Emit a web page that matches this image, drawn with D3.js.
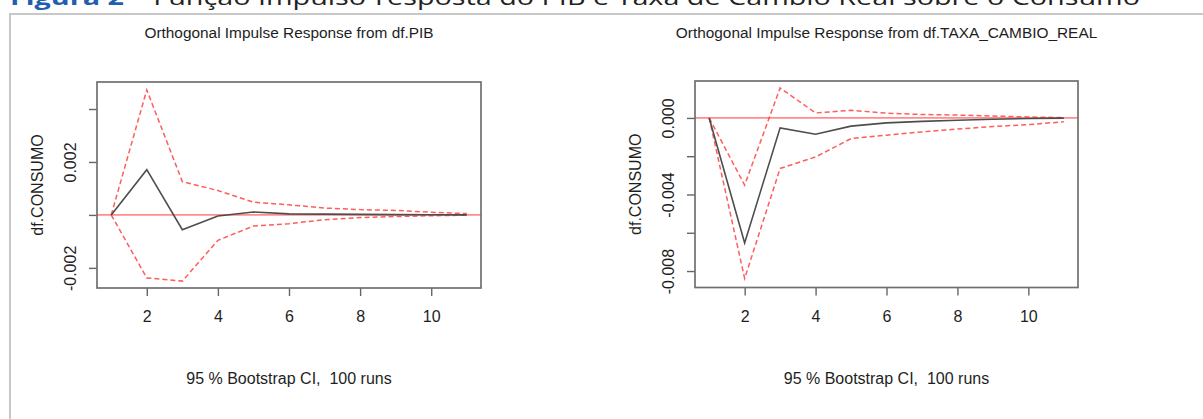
<!DOCTYPE html>
<html><head><meta charset="utf-8">
<script src="https://cdn.jsdelivr.net/npm/d3@7/dist/d3.min.js"></script>
<style>
html,body{margin:0;padding:0;background:#fff;}
svg{display:block;}
text{font-family:"Liberation Sans",Arial,sans-serif;fill:#1e1e1e;}
</style></head>
<body>
<script>
// ---- data ----
const horizons = [1,2,3,4,5,6,7,8,9,10,11];
const pibIrf   = [0, 0.00171, -0.00056, -0.00004, 0.00011, 0.00004, 0.00003, 0.00002, 0.00001, 0.000005, 0.0];
const pibUpper = [0, 0.00472, 0.00126, 0.00092, 0.00048, 0.00038, 0.00026, 0.00020, 0.00017, 0.00010, 0.00005];
const pibLower = [0, -0.00238, -0.00250, -0.00096, -0.00042, -0.00033, -0.00018, -0.00010, -0.00006, -0.00003, -0.00001];
const cambioIrf   = [0, -0.00653, -0.00052, -0.00085, -0.00043, -0.00026, -0.00018, -0.00012, -0.00007, -0.00003, -0.00001];
const cambioUpper = [0, -0.00351, 0.00157, 0.00026, 0.00040, 0.00025, 0.00018, 0.00015, 0.00010, 0.00005, 0.00002];
const cambioLower = [0, -0.00839, -0.00264, -0.00204, -0.00108, -0.00090, -0.00073, -0.00058, -0.00045, -0.00035, -0.00020];
const xTicks = [2,4,6,8,10];
const pibYTicks = [-0.002, 0, 0.002, 0.004];
const pibYLabels = [-0.002, 0.002];
const cambioYTicks = [-0.008, -0.006, -0.004, -0.002, 0];
const cambioYLabels = [-0.008, -0.004, 0];
const titles = ["Orthogonal Impulse Response from df.PIB", "Orthogonal Impulse Response from df.TAXA_CAMBIO_REAL"];
const yLabel = "df.CONSUMO";
const xLabel = "95 % Bootstrap CI,  100 runs";

const W = 1203, H = 419;
const svg = d3.select("body").append("svg").attr("width", W).attr("height", H);

// figure caption (clipped at the top, as in the source) and frame
const cap = svg.append("text").attr("x", 10).attr("y", 5)
  .style("font-family", "'Open Sans','Liberation Sans',sans-serif").style("font-size", "22px");
cap.append("tspan").text("Figura 2").style("fill", "#1f5fae").style("font-weight", "bold");
cap.append("tspan").text(" \u2013 Função Impulso-resposta do PIB e Taxa de Câmbio Real sobre o Consumo").style("fill", "#222");
cap.attr("textLength", 1130).attr("lengthAdjust", "spacingAndGlyphs");
svg.append("path").attr("d", "M10,419V14H1203").attr("fill", "none").attr("stroke", "#c8c8c8").attr("stroke-width", 2);

const FS = "16px";
function panel(cfg) {
  const {x0, x1, y0, y1, yDomain, irf, up, lo, yTicks, yLabels, title} = cfg;
  const x = d3.scaleLinear().domain([0.6, 11.4]).range([x0, x1]);
  const y = d3.scaleLinear().domain(yDomain).range([y1, y0]);
  const g = svg.append("g");

  // axes
  const fmt = d => d3.format(".3f")(d).replace("\u2212", "-");
  const ax = g.append("g").attr("transform", `translate(${x0},0)`)
    .call(d3.axisLeft(y).tickValues(yTicks).tickSize(8).tickPadding(0)
      .tickFormat(d => yLabels.some(v => Math.abs(v - d) < 1e-9) ? fmt(d) : ""));
  ax.select(".domain").remove();
  ax.selectAll(".tick line").attr("stroke", "#666").attr("stroke-width", 1.4);
  ax.selectAll(".tick text").attr("transform", "rotate(-90)").attr("x", 0).attr("y", -27)
    .attr("dy", "0.36em").attr("text-anchor", "middle")
    .style("font-size", FS).style("fill", "#1e1e1e").style("font-family", "'Liberation Sans',Arial,sans-serif");

  const bx = g.append("g").attr("transform", `translate(0,${y1})`)
    .call(d3.axisBottom(x).tickValues(xTicks).tickSize(8).tickPadding(15));
  bx.select(".domain").remove();
  bx.selectAll(".tick line").attr("stroke", "#666").attr("stroke-width", 1.4);
  bx.selectAll(".tick text").style("font-size", FS).style("fill", "#1e1e1e")
    .style("font-family", "'Liberation Sans',Arial,sans-serif");

  // zero line
  g.append("line").attr("x1", x0).attr("x2", x1).attr("y1", y(0)).attr("y2", y(0))
    .attr("stroke", "#ff7a7a").attr("stroke-width", 1.8).attr("opacity", 0.85);

  const line = d3.line().x((d, i) => x(horizons[i])).y(d => y(d));
  [up, lo].forEach(s => g.append("path").datum(s).attr("d", line).attr("fill", "none")
    .attr("stroke", "#ff4040").attr("stroke-width", 1.5).attr("stroke-dasharray", "5,3").attr("opacity", 0.85));
  g.append("path").datum(irf).attr("d", line).attr("fill", "none")
    .attr("stroke", "#4d4d4d").attr("stroke-width", 1.6);

  // box
  g.append("rect").attr("x", x0).attr("y", y0).attr("width", x1 - x0).attr("height", y1 - y0)
    .attr("fill", "none").attr("stroke", "#707070").attr("stroke-width", 1.7);

  // titles
  const cx = (x0 + x1) / 2;
  g.append("text").attr("x", cx).attr("y", 38).attr("text-anchor", "middle")
    .style("font-size", "15.4px").text(title);
  g.append("text").attr("x", cx).attr("y", 384).attr("text-anchor", "middle")
    .style("font-size", FS).style("white-space", "pre").attr("xml:space", "preserve").text(xLabel);
  g.append("text").attr("transform", `translate(${x0 - 60},${(y0 + y1) / 2}) rotate(-90)`)
    .attr("text-anchor", "middle").attr("dy", "0.36em").style("font-size", FS).text(yLabel);
}

panel({x0: 97, x1: 481, y0: 82, y1: 288, yDomain: [-0.00276, 0.00502],
  irf: pibIrf, up: pibUpper, lo: pibLower, yTicks: pibYTicks, yLabels: pibYLabels, title: titles[0]});
panel({x0: 695, x1: 1078, y0: 81, y1: 287.5, yDomain: [-0.00886, 0.00193],
  irf: cambioIrf, up: cambioUpper, lo: cambioLower, yTicks: cambioYTicks, yLabels: cambioYLabels, title: titles[1]});
</script>
</body></html>
